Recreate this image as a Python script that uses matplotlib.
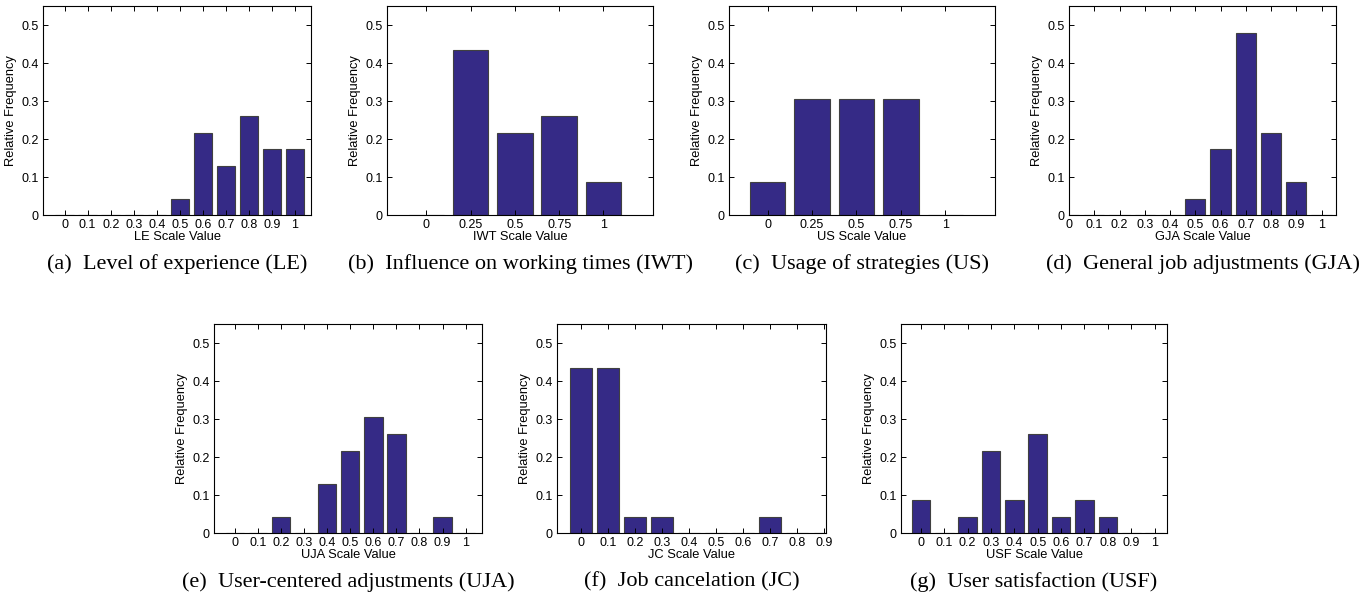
import matplotlib
matplotlib.use('Agg')
import matplotlib.pyplot as plt

plt.rcParams['font.family'] = 'Liberation Sans'

# Werte (relative Häufigkeiten)
le_x = [0, 0.1, 0.2, 0.3, 0.4, 0.5, 0.6, 0.7, 0.8, 0.9, 1.0]
le_y = [0, 0, 0, 0, 0, 0.043, 0.217, 0.130, 0.261, 0.174, 0.174]

iwt_x = [0, 0.25, 0.5, 0.75, 1.0]
iwt_y = [0, 0.435, 0.217, 0.261, 0.087]

us_x = [0, 0.25, 0.5, 0.75, 1.0]
us_y = [0.087, 0.304, 0.304, 0.304, 0]

gja_x = [0, 0.1, 0.2, 0.3, 0.4, 0.5, 0.6, 0.7, 0.8, 0.9, 1.0]
gja_y = [0, 0, 0, 0, 0, 0.043, 0.174, 0.478, 0.217, 0.087, 0]

uja_x = [0, 0.1, 0.2, 0.3, 0.4, 0.5, 0.6, 0.7, 0.8, 0.9, 1.0]
uja_y = [0, 0, 0.043, 0, 0.130, 0.217, 0.304, 0.261, 0, 0.043, 0]

jc_x = [0, 0.1, 0.2, 0.3, 0.4, 0.5, 0.6, 0.7, 0.8, 0.9]
jc_y = [0.435, 0.435, 0.043, 0.043, 0, 0, 0, 0.043, 0, 0]

usf_x = [0, 0.1, 0.2, 0.3, 0.4, 0.5, 0.6, 0.7, 0.8, 0.9, 1.0]
usf_y = [0.087, 0, 0.043, 0.217, 0.087, 0.261, 0.043, 0.087, 0.043, 0, 0]

tick_dec = ['0', '0.1', '0.2', '0.3', '0.4', '0.5', '0.6', '0.7', '0.8', '0.9', '1']
tick_quart = ['0', '0.25', '0.5', '0.75', '1']

W, H = 1364, 599
BAR = '#352a86'

fig = plt.figure(figsize=(W / 100, H / 100), dpi=100)


def add_panel(l, r, t, b, xs, ys, width, xlim, ticks, ticklabels, abbr, caption):
    ax = fig.add_axes([l / W, 1 - b / H, (r - l) / W, (b - t) / H])
    ax.bar(xs, ys, width=width, color=BAR, edgecolor='#404040', linewidth=0.8)
    ax.set_xlim(*xlim)
    ax.set_ylim(0, 0.55)
    ax.set_xticks(ticks)
    ax.set_xticklabels(ticklabels)
    ax.set_yticks([0, 0.1, 0.2, 0.3, 0.4, 0.5])
    ax.set_yticklabels(['0', '0.1', '0.2', '0.3', '0.4', '0.5'])
    ax.tick_params(direction='in', top=True, right=True, length=3.5, width=0.7,
                   labelsize=9, pad=3)
    for s in ax.spines.values():
        s.set_linewidth(0.8)
    ax.set_xlabel(abbr + ' Scale Value', fontsize=9.3, labelpad=0)
    ax.set_ylabel('Relative Frequency', fontsize=9.3, labelpad=3)
    fig.text((l + r) / 2 / W, 1 - (b + 49) / H, caption, ha='center', va='center',
             fontsize=16, family='Liberation Serif')
    return ax


add_panel(43, 311, 6, 215, le_x, le_y, 0.08, (-0.094, 1.07), le_x, tick_dec,
          'LE', '(a)  Level of experience (LE)')
add_panel(387, 653, 6, 215, iwt_x, iwt_y, 0.2, (-0.222, 1.28), iwt_x, tick_quart,
          'IWT', '(b)  Influence on working times (IWT)')
add_panel(729, 995, 6, 215, us_x, us_y, 0.2, (-0.218, 1.28), us_x, tick_quart,
          'US', '(c)  Usage of strategies (US)')
add_panel(1069, 1336, 6, 215, gja_x, gja_y, 0.08, (0, 1.057), gja_x, tick_dec,
          'GJA', '(d)  General job adjustments (GJA)')
add_panel(214, 482, 324, 533, uja_x, uja_y, 0.08, (-0.09, 1.071), uja_x, tick_dec,
          'UJA', '(e)  User-centered adjustments (UJA)')
add_panel(557, 826, 324, 533, jc_x, jc_y, 0.08, (-0.088, 0.906), jc_x, tick_dec[:10],
          'JC', '(f)  Job cancelation (JC)')
add_panel(901, 1167, 324, 533, usf_x, usf_y, 0.08, (-0.085, 1.053), usf_x, tick_dec,
          'USF', '(g)  User satisfaction (USF)')

fig.savefig('out.png', dpi=100)
